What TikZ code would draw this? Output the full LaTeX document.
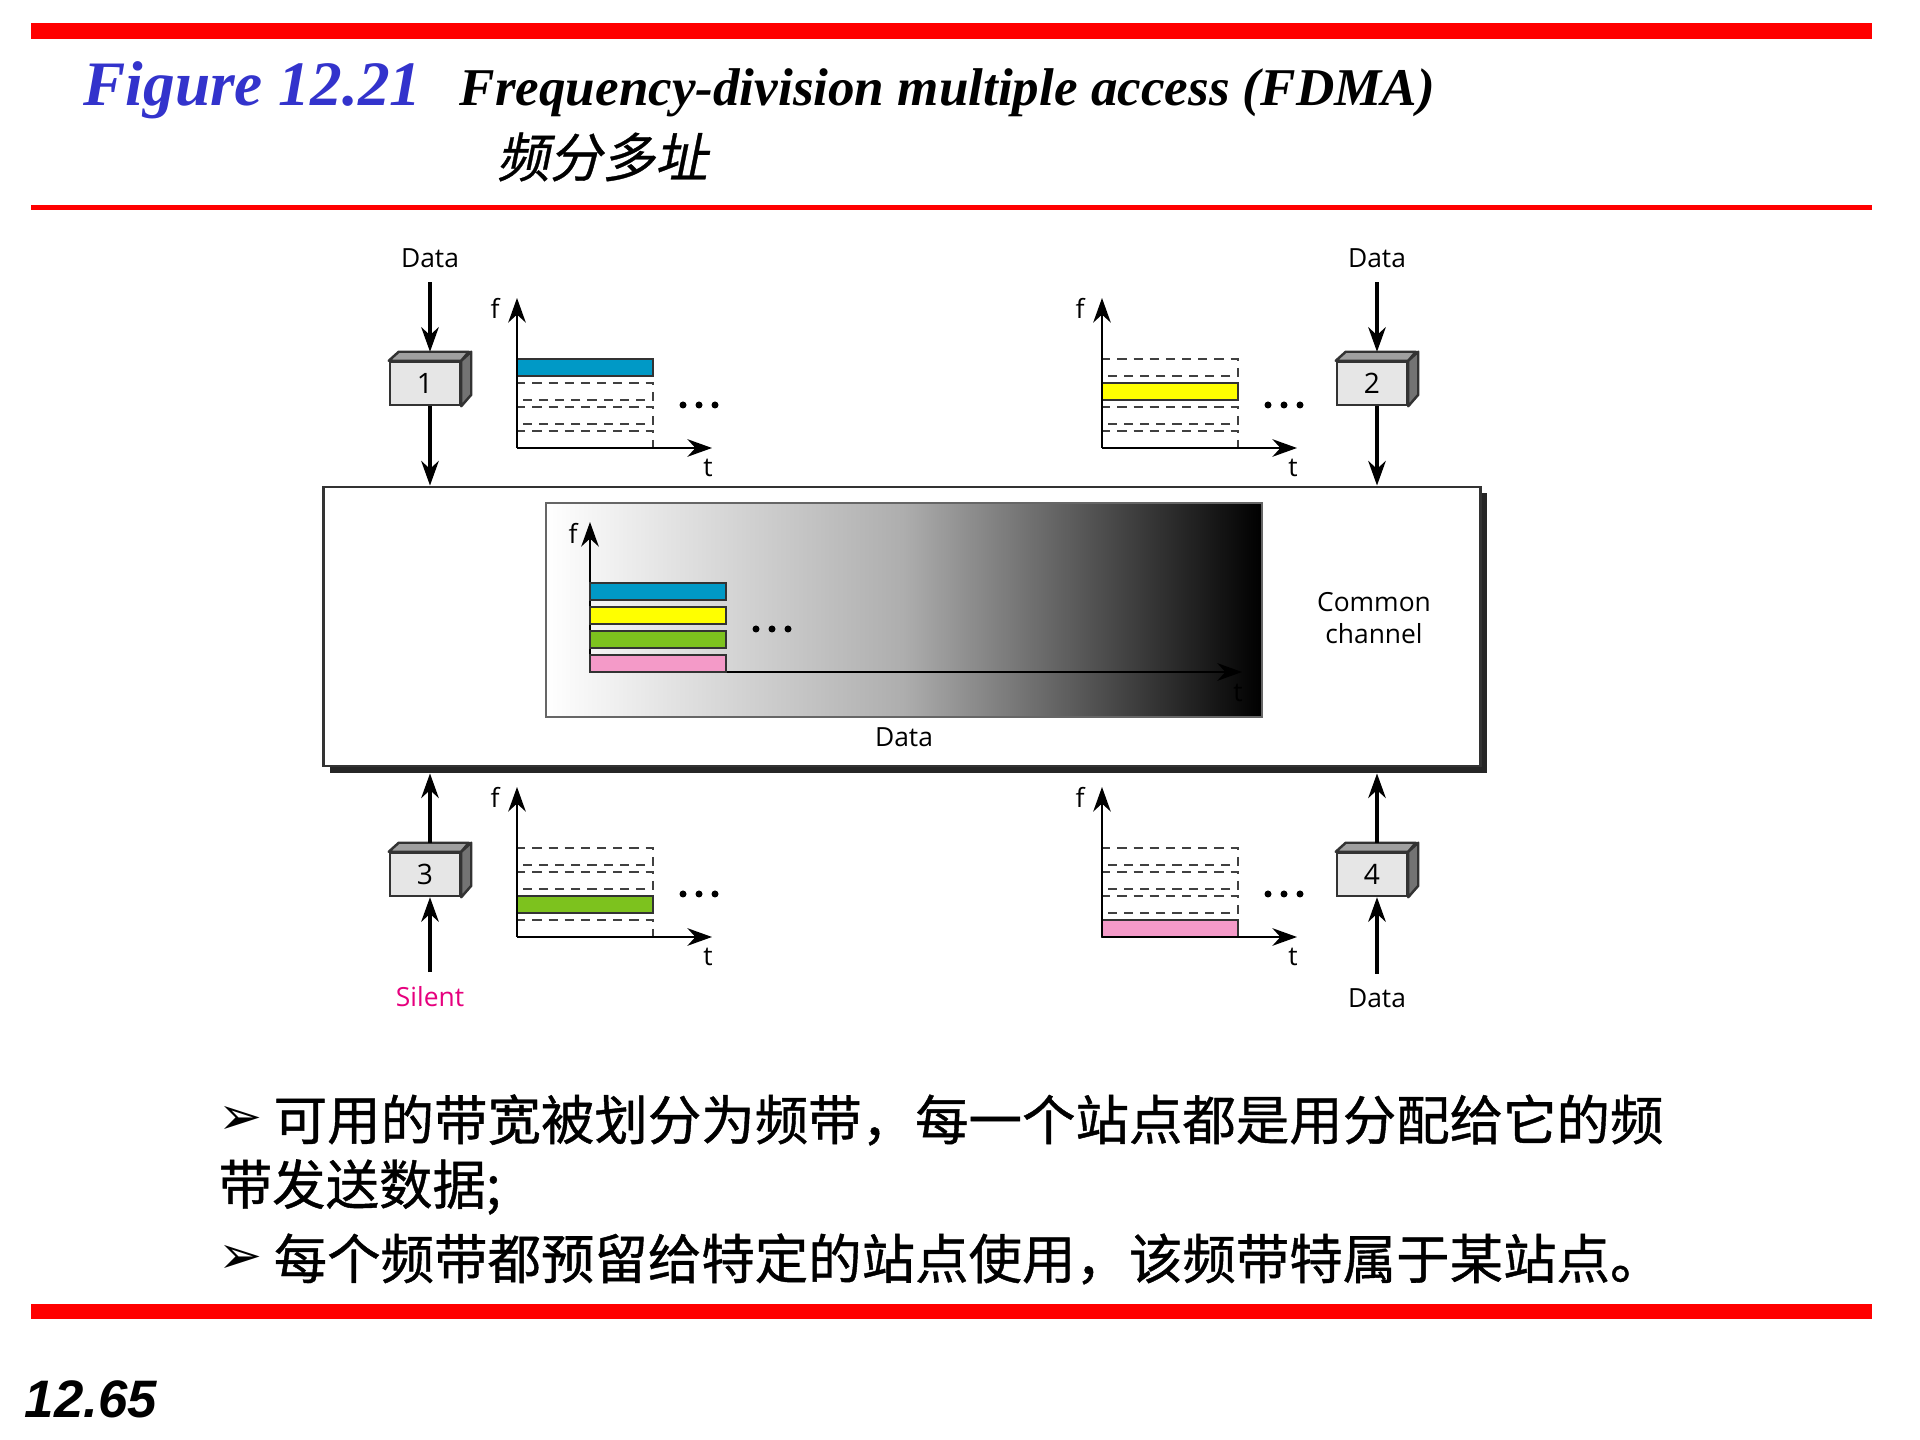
\documentclass[tikz,border=0pt]{standalone}
\usepackage{fontspec}
\setmainfont{Liberation Serif}
\newfontfamily\diag{Open Sans}
\newfontfamily\cjk[FakeBold=0.8]{Noto Sans CJK SC}
\newfontfamily\cjkit[FakeSlant=0.2,FakeBold=0.6]{Noto Sans CJK SC}
\newfontfamily\arrowfont{DejaVu Sans}
\newfontfamily\pgfont{Liberation Sans}
\usetikzlibrary{arrows.meta,calc}
\definecolor{titleblue}{RGB}{51,51,204}
\definecolor{bcyan}{RGB}{0,153,198}
\definecolor{byellow}{RGB}{255,255,0}
\definecolor{bgreen}{RGB}{125,194,30}
\definecolor{bpink}{RGB}{244,154,200}
\definecolor{silentpink}{RGB}{230,0,126}
\definecolor{boxfront}{RGB}{230,230,230}
\definecolor{boxtop}{RGB}{160,160,160}
\definecolor{boxside}{RGB}{115,115,115}
\newcommand\boxfaces[1]{%
  \filldraw[draw=black!80, fill=boxtop, line width=0.7pt, line join=round]
    (#1.north west) -- ++(10,-9) -- ++(70,0) -- (#1.north east) -- cycle;
  \filldraw[draw=black!80, fill=boxside, line width=0.7pt, line join=round]
    (#1.north east) -- ++(10,-9) -- ++(0,43) -- (#1.south east) -- cycle;}
% #1 x0, #2 y0 (axis origin), #3 filled band, #4 colour, #5 name prefix, #6 axis length t
\newcommand\fchart[6]{%
  \foreach \k in {0,...,3}{%
    \ifnum\k=#3\relax
      \filldraw[fill=#4, draw=black!80, line width=0.6pt] (#1,#2-24*\k) rectangle (#1+136,#2-24*\k-17);
    \else
      \draw[bandd] (#1,#2-24*\k) rectangle (#1+136,#2-24*\k-17);
    \fi}
  \draw[axarr] (#1,#2) -- (#1,#2-150);
  \draw[axarr] (#1,#2) -- (#1+#6,#2);
  \fill (#1+166,#2-43) circle (3.5) (#1+182,#2-43) circle (3.5) (#1+198,#2-43) circle (3.5);
}
\begin{document}
\begin{tikzpicture}[x=0.01cm,y=-0.01cm,
  lbl/.style={font=\diag\fontsize{7.5}{9}\selectfont, inner sep=0},
  darr/.style={line width=0.9pt, -{Stealth[length=7pt,width=5pt]}},
  axarr/.style={line width=0.6pt, -{Stealth[length=7pt,width=5pt]}},
  bandd/.style={dash pattern=on 2.6pt off 2pt, draw=black!75, line width=0.7pt},
  stfront/.style={draw=black!80, fill=boxfront, line width=0.7pt, minimum width=0.7cm,
    minimum height=0.43cm, inner sep=0, font=\diag\fontsize{8}{9}\selectfont},
  cjkline/.style={anchor=west, inner sep=0, font=\cjk\fontsize{15.2}{15}\selectfont},
]
\useasboundingbox (0,0) rectangle (1920,1440);
\fill[white] (0,0) rectangle (1920,1440);
% red rules
\fill[red] (31,23) rectangle (1872,39);
\fill[red] (31,205) rectangle (1872,210);
\fill[red] (31,1304) rectangle (1872,1319);
% title
\node[anchor=base west, inner sep=0, text=titleblue, font=\bfseries\itshape\fontsize{18}{20}\selectfont] (fig) at (83,106) {Figure 12.21};
\node[anchor=base west, inner sep=0, font=\bfseries\itshape\fontsize{15.1}{18}\selectfont] (ttl) at (459,106) {Frequency-division multiple access (FDMA)};
\node[anchor=west, inner sep=0, font=\cjkit\fontsize{15}{15}\selectfont] (cn) at (496,157) {频分多址};

% common channel
\fill[black!85] (330,493) rectangle (1487,773);
\node[draw=black!80, fill=white, line width=0.8pt, minimum width=11.56cm, minimum height=2.79cm, inner sep=0] (ch) at (902,626.5) {};
\node[draw=black!60, line width=0.7pt, left color=white, right color=black, middle color=black!32, minimum width=7.16cm, minimum height=2.14cm, inner sep=0] (gr) at (904,610) {};
\fchart{590}{672}{-1}{white}{c}{652}
\filldraw[fill=bpink, draw=black!80, line width=0.6pt] (590,655) rectangle (726,672);
\filldraw[fill=bgreen, draw=black!80, line width=0.6pt] (590,631) rectangle (726,648);
\filldraw[fill=byellow, draw=black!80, line width=0.6pt] (590,607) rectangle (726,624);
\filldraw[fill=bcyan, draw=black!80, line width=0.6pt] (590,583) rectangle (726,600);
\node[lbl] (cf) at (573,533) {f};
\node[lbl] (ct) at (1238,693) {t};
\node[lbl] (cdata) at (904,737) {Data};
\node[lbl, align=center] (cc) at (1374,618) {Common\\channel};

% station charts
\fchart{517}{448}{3}{bcyan}{s1}{195}
\fchart{1102}{448}{2}{byellow}{s2}{195}
\fchart{517}{937}{1}{bgreen}{s3}{195}
\fchart{1102}{937}{0}{bpink}{s4}{195}
\node[lbl] (f1) at (495,308) {f};
\node[lbl] (t1) at (708,468) {t};
\node[lbl] (f2) at (1080,308) {f};
\node[lbl] (t2) at (1293,468) {t};
\node[lbl] (f3) at (495,797) {f};
\node[lbl] (t3) at (708,957) {t};
\node[lbl] (f4) at (1080,797) {f};
\node[lbl] (t4) at (1293,957) {t};

% stations
\node[stfront] (b1) at (425,383.5) {1};
\node[stfront] (b2) at (1372,383.5) {2};
\node[stfront] (b3) at (425,874.5) {3};
\node[stfront] (b4) at (1372,874.5) {4};
\boxfaces{b1}\boxfaces{b2}\boxfaces{b3}\boxfaces{b4}

\node[lbl] (d1) at (430,258) {Data};
\node[lbl] (d2) at (1377,258) {Data};
\node[lbl, text=silentpink] (s3) at (430,997) {Silent};
\node[lbl] (d4) at (1377,998) {Data};

\draw[darr] ([yshift=-4pt]d1.south) -- ($(b1.north)+(5,-9)$);
\draw[darr] (b1.south -| d1) -- (ch.north -| d1);
\draw[darr] ([yshift=-4pt]d2.south) -- ($(b2.north)+(5,-9)$);
\draw[darr] (b2.south -| d2) -- (ch.north -| d2);
\draw[darr] ($(b3.north)+(5,-9)$) -- ($(ch.south -| s3)+(0,6)$);
\draw[darr] ([yshift=4pt]s3.north) -- (b3.south -| s3);
\draw[darr] ($(b4.north)+(5,-9)$) -- ($(ch.south -| d4)+(0,6)$);
\draw[darr] ([yshift=4pt]d4.north) -- (b4.south -| d4);

% bottom text
\node[anchor=west, inner sep=0, font=\arrowfont\fontsize{15}{15}\selectfont] (a1) at (218,1120) {➢};
\node[cjkline] (l1) at (273,1120) {可用的带宽被划分为频带，每一个站点都是用分配给它的频};
\node[cjkline] (l2) at (218,1187) {带发送数据;};
\node[anchor=west, inner sep=0, font=\arrowfont\fontsize{15}{15}\selectfont] (a3) at (218,1259) {➢};
\node[cjkline] (l3) at (273,1259) {每个频带都预留给特定的站点使用，该频带特属于某站点。};

\node[anchor=base west, inner sep=0, font=\pgfont\bfseries\itshape\fontsize{15}{15}\selectfont] (pg) at (24,1418) {12.65};
\end{tikzpicture}
\end{document}
